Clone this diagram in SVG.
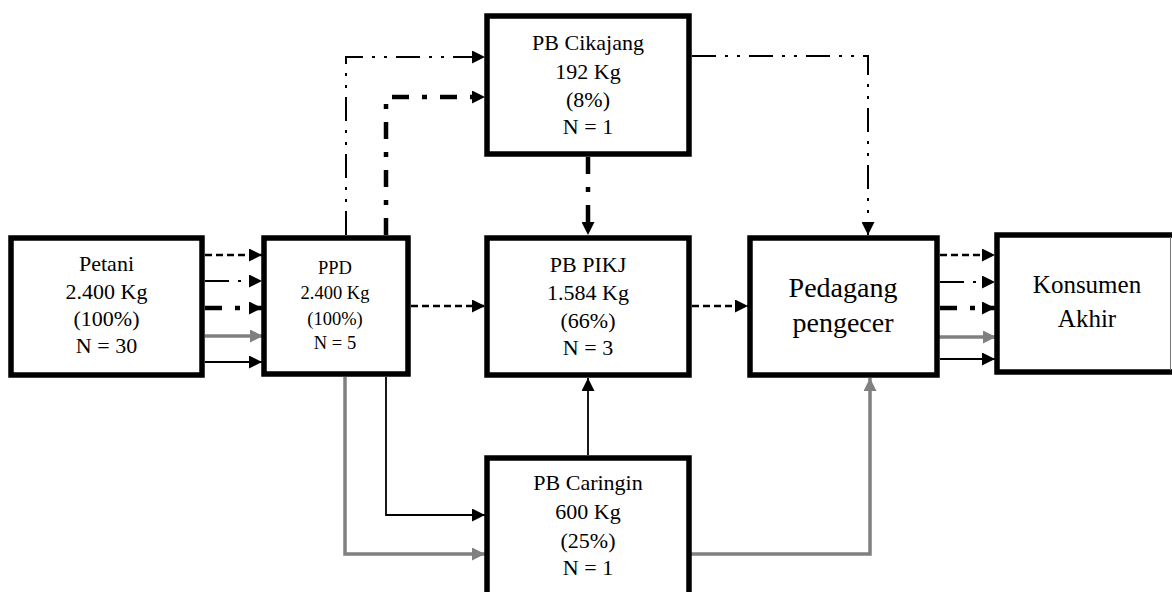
<svg xmlns="http://www.w3.org/2000/svg" width="1172" height="592" viewBox="0 0 1172 592">
<style>
.box{fill:#fff;stroke:#000;stroke-width:5.5}
.t{font-family:"Liberation Serif","Times New Roman",serif;font-size:22px;fill:#000;text-anchor:middle}
.s{font-size:18.5px}
.big{font-size:28px}
.k{font-size:25px}
.c{fill:none}
.dash{stroke:#000;stroke-width:2.5;stroke-dasharray:7 4}
.dd{stroke:#000;stroke-width:2;stroke-dasharray:24 9 3 9 3 9}
.dt{stroke:#000;stroke-width:4.5;stroke-dasharray:17 13 5 13}
.gray{stroke:#808080;stroke-width:3.5}
.solid{stroke:#000;stroke-width:1.8}
</style>
<defs>
<marker id="ab" markerUnits="userSpaceOnUse" markerWidth="13" markerHeight="13" refX="13" refY="6.5" orient="auto"><path d="M0,0 L13,6.5 L0,13 z" fill="#000"/></marker>
<marker id="ag" markerUnits="userSpaceOnUse" markerWidth="13" markerHeight="13" refX="13" refY="6.5" orient="auto"><path d="M0,0 L13,6.5 L0,13 z" fill="#808080"/></marker>
</defs>
<rect width="1172" height="592" fill="#fff"/>
<g id="connectors">
<!-- Petani -> PPD -->
<line class="c dash" x1="205" y1="255" x2="262" y2="255" marker-end="url(#ab)"/>
<line class="c dd" x1="205" y1="281" x2="262" y2="281" marker-end="url(#ab)"/>
<line class="c dt" x1="205" y1="308" x2="262" y2="308" marker-end="url(#ab)"/>
<line class="c gray" x1="205" y1="336" x2="263" y2="336" marker-end="url(#ag)"/>
<line class="c solid" x1="205" y1="362" x2="262" y2="362" marker-end="url(#ab)"/>
<!-- PPD -> Cikajang -->
<path class="c dd" d="M346,235 V57 H485" marker-end="url(#ab)"/>
<path class="c dt" d="M386,235 V97 H485" marker-end="url(#ab)"/>
<!-- Cikajang -> PIKJ -->
<path class="c dt" d="M588,157 V235" marker-end="url(#ab)"/>
<!-- Cikajang -> Pedagang -->
<path class="c dd" d="M692,56 H868 V235" marker-end="url(#ab)"/>
<!-- PPD -> PIKJ, PIKJ -> Pedagang -->
<line class="c dash" x1="411" y1="306" x2="485" y2="306" marker-end="url(#ab)"/>
<line class="c dash" x1="692" y1="306" x2="748" y2="306" marker-end="url(#ab)"/>
<!-- PPD -> Caringin -->
<path class="c solid" d="M386,377 V515 H485" marker-end="url(#ab)"/>
<path class="c gray" d="M345,377 V554 H485" marker-end="url(#ag)"/>
<!-- Caringin -> PIKJ -->
<path class="c solid" d="M588,455 V378" marker-end="url(#ab)"/>
<!-- Caringin -> Pedagang -->
<path class="c gray" d="M691,554 H870 V378" marker-end="url(#ag)"/>
<!-- Pedagang -> Konsumen -->
<line class="c dash" x1="940" y1="255" x2="995" y2="255" marker-end="url(#ab)"/>
<line class="c dd" x1="940" y1="282" x2="995" y2="282" marker-end="url(#ab)"/>
<line class="c dt" x1="940" y1="308" x2="995" y2="308" marker-end="url(#ab)"/>
<line class="c gray" x1="938" y1="337" x2="996" y2="337" marker-end="url(#ag)"/>
<line class="c solid" x1="940" y1="359" x2="995" y2="359" marker-end="url(#ab)"/>
</g>
<g id="petani">
<rect class="box" x="11" y="238" width="191" height="137"/>
<text class="t" x="106.5" y="271">Petani</text>
<text class="t" x="106.5" y="299">2.400 Kg</text>
<text class="t" x="106.5" y="326">(100%)</text>
<text class="t" x="106.5" y="353">N = 30</text>
</g>
<g id="ppd">
<rect class="box" x="264" y="238" width="144" height="136"/>
<text class="t s" x="335" y="274">PPD</text>
<text class="t s" x="335" y="299">2.400 Kg</text>
<text class="t s" x="335" y="325">(100%)</text>
<text class="t s" x="335" y="349">N = 5</text>
</g>
<g id="pb-cikajang">
<rect class="box" x="487" y="16" width="202" height="138"/>
<text class="t" x="588" y="50">PB Cikajang</text>
<text class="t" x="588" y="79">192 Kg</text>
<text class="t" x="588" y="107">(8%)</text>
<text class="t" x="588" y="134">N = 1</text>
</g>
<g id="pb-pikj">
<rect class="box" x="487" y="238" width="202" height="137"/>
<text class="t" x="588" y="272">PB PIKJ</text>
<text class="t" x="588" y="300">1.584 Kg</text>
<text class="t" x="588" y="328">(66%)</text>
<text class="t" x="588" y="355">N = 3</text>
</g>
<g id="pedagang">
<rect class="box" x="750" y="238" width="187" height="137"/>
<text class="t big" x="843" y="297">Pedagang</text>
<text class="t big" x="843" y="332">pengecer</text>
</g>
<g id="konsumen">
<rect class="box" x="997" y="235" width="185" height="137"/>
<line x1="1170.5" y1="237" x2="1170.5" y2="370" stroke="#777" stroke-width="1"/>
<text class="t k" x="1087" y="293">Konsumen</text>
<text class="t k" x="1087" y="327">Akhir</text>
</g>
<g id="pb-caringin">
<rect class="box" x="487" y="458" width="202" height="150"/>
<text class="t" x="588" y="490">PB Caringin</text>
<text class="t" x="588" y="519">600 Kg</text>
<text class="t" x="588" y="548">(25%)</text>
<text class="t" x="588" y="575">N = 1</text>
</g>
</svg>
